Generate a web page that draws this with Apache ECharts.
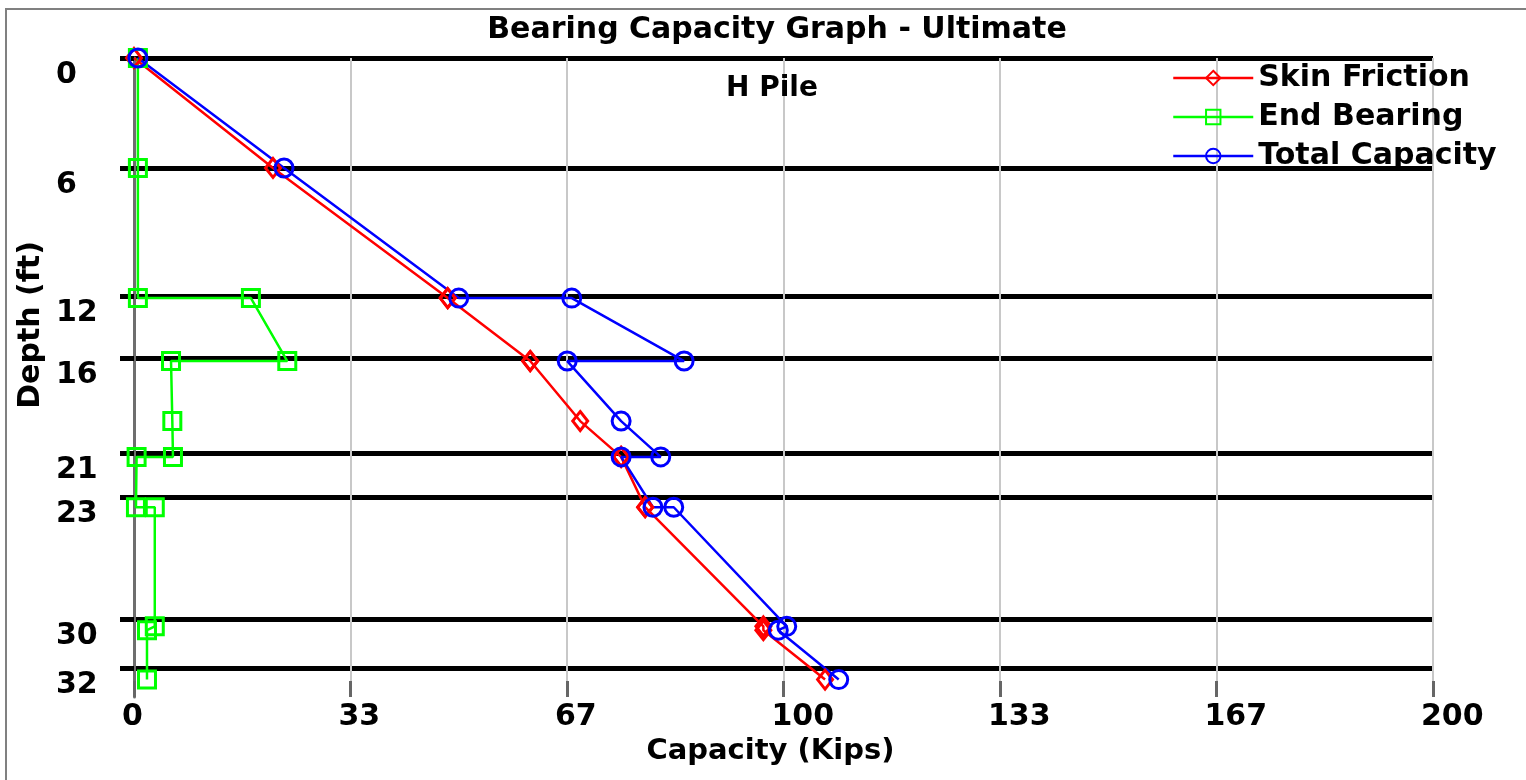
<!DOCTYPE html>
<html>
<head>
<meta charset="utf-8">
<title>Bearing Capacity Graph</title>
<script src="https://cdn.jsdelivr.net/npm/echarts@6/dist/echarts.min.js"></script>
<style>
  html, body { margin: 0; padding: 0; background: #fff; }
  #chart { width: 1526px; height: 780px; }
</style>
</head>
<body>
<div id="chart"></div>
<script>
// depth (ft) of every plotted point, shared by the three curves
const depths = [0, 5.68, 12.4, 12.4, 15.65, 15.65, 18.75, 20.6, 20.6, 23.2, 23.2, 29.35, 29.55, 32.1]
// capacities in kips
const skinFriction = [0, 21.4, 48.3, 48.3, 61, 61, 68.7, 75, 75, 78.7, 78.7, 96.9, 96.9, 106.4]
const endBearing = [0.6, 0.6, 0.6, 18, 23.6, 5.7, 5.9, 6, 0.4, 0.3, 3.2, 3.2, 2, 2]
const totalCapacity = [0.6, 23.1, 50, 67.4, 84.7, 66.7, 75, 81.1, 75, 79.9, 83.1, 100.5, 99.2, 108.5]

// soil layer boundaries and the depth shown for each
const layerDepths = [0, 5.68, 12.3, 15.5, 20.4, 22.7, 29.0, 31.5]
const layerLabels = ['0', '6', '12', '16', '21', '23', '30', '32']

const xTickLabels = ['0', '33', '67', '100', '133', '167', '200']

const FONT = '"DejaVu Sans", "Liberation Sans", sans-serif'

const chart = echarts.init(document.getElementById('chart'))

function points(values) {
  return values.map((v, i) => [v, depths[i]])
}

function curve(name, values, color, symbol, size) {
  return {
    name: name,
    type: 'line',
    data: points(values),
    z: 4,
    symbol: symbol,
    symbolSize: size,
    showSymbol: true,
    animation: false,
    lineStyle: { color: color, width: 2.5 },
    itemStyle: { color: 'rgba(255,255,255,0)', borderColor: color, borderWidth: 3 }
  }
}

chart.setOption({
  backgroundColor: '#fff',
  animation: false,
  title: [
    {
      text: 'Bearing Capacity Graph - Ultimate',
      left: 772,
      top: 10,
      textAlign: 'center',
      textStyle: { fontFamily: FONT, fontWeight: 'bold', fontSize: 30, color: '#000' }
    },
    {
      text: 'H Pile',
      left: 767,
      top: 70,
      textAlign: 'center',
      textStyle: { fontFamily: FONT, fontWeight: 'bold', fontSize: 28, color: '#000' }
    }
  ],
  graphic: [
    {
      type: 'rect',
      silent: true,
      shape: { x: 6, y: 9, width: 1600, height: 900 },
      style: { fill: 'none', stroke: '#808080', lineWidth: 2 }
    },
    {
      type: 'text',
      x: 31,
      y: 325,
      rotation: Math.PI / 2,
      silent: true,
      style: {
        text: 'Depth (ft)',
        font: 'bold 30px ' + FONT,
        fill: '#000',
        align: 'center',
        verticalAlign: 'middle',
        textAlign: 'center',
        textVerticalAlign: 'middle'
      }
    }
  ],
  legend: {
    data: ['Skin Friction', 'End Bearing', 'Total Capacity'],
    orient: 'vertical',
    left: 1167,
    top: 58,
    itemWidth: 80,
    itemHeight: 18,
    itemGap: 9,
    lineStyle: { width: 2.5 },
    textStyle: { fontFamily: FONT, fontWeight: 'bold', fontSize: 30, color: '#000' }
  },
  grid: { left: 134, right: 93, top: 58, bottom: 83 },
  xAxis: {
    type: 'value',
    min: 0,
    max: 200,
    interval: 200 / 6,
    z: 3,
    name: 'Capacity (Kips)',
    nameLocation: 'middle',
    nameGap: 36,
    nameTextStyle: { fontFamily: FONT, fontWeight: 'bold', fontSize: 29, color: '#000', padding: [0, 26, 0, 0] },
    axisLine: { show: false, onZero: false },
    axisTick: { show: true, inside: true, length: 16, lineStyle: { color: '#666', width: 3 } },
    axisLabel: {
      fontFamily: FONT,
      fontWeight: 'bold',
      fontSize: 30,
      color: '#000',
      margin: 5,
      align: 'left',
      padding: [0, 0, 0, -12],
      formatter: (v, i) => xTickLabels[i]
    },
    splitLine: { show: true, lineStyle: { color: '#c8c8c8', width: 2 } }
  },
  yAxis: {
    type: 'value',
    inverse: true,
    min: 0,
    max: 33,
    z: 3,
    axisLine: { show: true, onZero: false, lineStyle: { color: '#6e6e6e', width: 3 } },
    axisTick: { show: true, customValues: layerDepths, length: 14, lineStyle: { color: '#000', width: 5 } },
    axisLabel: {
      customValues: layerDepths,
      fontFamily: FONT,
      fontWeight: 'bold',
      fontSize: 30,
      color: '#000',
      align: 'left',
      verticalAlign: 'top',
      lineHeight: 34,
      margin: 78,
      formatter: (v) => layerLabels[layerDepths.indexOf(v)]
    },
    splitLine: { show: false }
  },
  series: [
    curve('Skin Friction', skinFriction, '#ff0000', 'diamond', [15, 19]),
    curve('End Bearing', endBearing, '#00ff00', 'rect', 17),
    curve('Total Capacity', totalCapacity, '#0000ff', 'circle', 18),
    {
      name: 'layers',
      type: 'line',
      data: [],
      z: 1,
      silent: true,
      markLine: {
        z: 1,
        silent: true,
        animation: false,
        symbol: ['none', 'none'],
        label: { show: false },
        lineStyle: { color: '#000', width: 5, type: 'solid' },
        data: layerDepths.map(d => ({ yAxis: d }))
      }
    }
  ]
})
</script>
</body>
</html>
